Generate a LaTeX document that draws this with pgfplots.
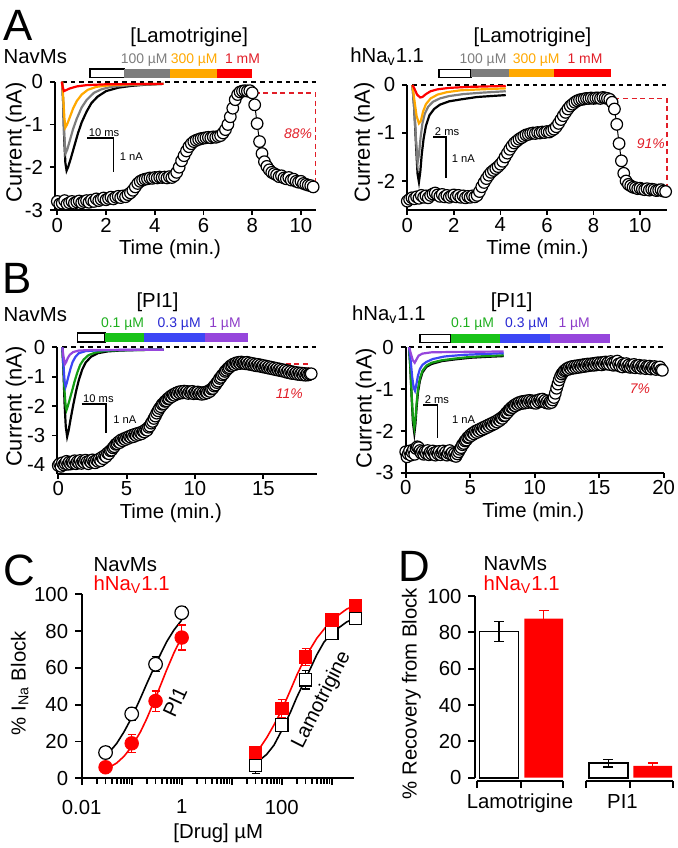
\documentclass[border=0pt]{standalone}
\usepackage{fontspec}
\setmainfont{Liberation Sans}
\usepackage{pgfplots}
\pgfplotsset{compat=1.18}

\definecolor{cgray}{RGB}{125,125,125}
\definecolor{corange}{RGB}{255,168,0}
\definecolor{cred}{RGB}{255,0,0}
\definecolor{dred}{RGB}{225,30,40}
\definecolor{cgreen}{RGB}{25,195,25}
\definecolor{cblue}{RGB}{60,70,245}
\definecolor{cpurple}{RGB}{150,70,220}
\definecolor{tgreen}{RGB}{30,175,30}
\definecolor{tblue}{RGB}{40,40,210}
\definecolor{tpurple}{RGB}{140,60,200}

\pgfplotsset{
  base/.style={scale only axis, clip=false, anchor=south west,
    axis x line*=bottom, axis y line*=left, tick align=outside,
    axis line style={line width=0.9pt},
    every tick/.style={black, line width=0.9pt},
    major tick length=2.5bp, minor tick num=0,
    tick label style={font=\fontsize{10.2}{12}\selectfont}},
  tc/.style={base, xticklabel style={yshift=2bp}},
  circ/.style={black, line width=0.5pt, mark=*, mark size=2.9bp,
    mark options={fill=white, draw=black, line width=0.6pt}},
  tr/.style={line width=1.1pt, no marks},
}
\tikzset{
  zero/.style={dash pattern=on 2.3bp off 2bp, line width=0.9pt},
  box/.style={dred, dash pattern=on 2.5bp off 1.8bp, line width=0.7pt},
  sbar/.style={line width=0.7pt},
}

\begin{document}
\begin{tikzpicture}[font=\fontsize{10.2}{12}\selectfont]

% ---------------- A left: NavMs, lamotrigine
\begin{axis}[tc, at={(27.45bp,-105bp)}, width=130.35bp, height=64.15bp,
  xmin=-0.1, xmax=10.6, ymin=-3, ymax=0,
  xtick={0,2,4,6,8,10}, xticklabels={0,2,4,6,8,10},
  ytick={-3,-2,-1,0}, yticklabels={-3,-2,-1,0}]
\draw[zero] (axis cs:0.2,0) -- (axis cs:10.6,0);
\addplot[tr, black] coordinates {(0.20,0)(0.24,-0.5)(0.28,-1.3)(0.33,-1.9)(0.38,-2.08)(0.44,-2.0)(0.55,-1.8)(0.7,-1.5)(0.85,-1.2)(1.0,-0.95)(1.2,-0.7)(1.4,-0.5)(1.65,-0.35)(2.0,-0.22)(2.5,-0.14)(3.0,-0.1)(3.6,-0.07)(4.35,-0.05)};
\addplot[tr, cgray] coordinates {(0.20,0)(0.24,-0.5)(0.28,-1.2)(0.33,-1.68)(0.4,-1.6)(0.5,-1.4)(0.65,-1.1)(0.8,-0.86)(1.0,-0.6)(1.2,-0.43)(1.5,-0.26)(1.8,-0.18)(2.2,-0.12)(3.0,-0.08)(4.35,-0.05)};
\addplot[tr, corange] coordinates {(0.20,0)(0.25,-0.45)(0.29,-0.85)(0.33,-1.07)(0.4,-1.0)(0.5,-0.85)(0.65,-0.62)(0.8,-0.45)(1.0,-0.3)(1.25,-0.19)(1.6,-0.12)(2.2,-0.08)(3.0,-0.06)(4.35,-0.05)};
\addplot[tr, cred] coordinates {(0.18,0)(0.22,-0.12)(0.27,-0.22)(0.35,-0.2)(0.5,-0.16)(0.8,-0.11)(1.2,-0.08)(2.0,-0.06)(4.35,-0.05)};
\draw[sbar] (axis cs:1.23,-1.32) -- (axis cs:2.3,-1.32) -- (axis cs:2.3,-2.12);
\node[anchor=south west, inner sep=0.6bp, font=\fontsize{5.6}{6}\selectfont] at (axis cs:1.23,-1.32) {10 ms};
\node[anchor=west, inner sep=0, font=\fontsize{5.6}{6}\selectfont] at (axis cs:2.55,-1.75) {1 nA};
\draw[box] (axis cs:8.1,-0.26) -- (axis cs:10.6,-0.26) -- (axis cs:10.6,-2.46);
\node[anchor=east, inner sep=0, text=dred, font=\fontsize{7}{8}\selectfont\itshape] at (axis cs:10.47,-1.22) {88\%};
\addplot[circ] coordinates {
(0,-2.80)(0.1,-2.86)(0.2,-2.84)(0.3,-2.78)(0.4,-2.86)(0.5,-2.83)(0.6,-2.80)(0.7,-2.84)(0.8,-2.81)(0.9,-2.79)
(1,-2.83)(1.1,-2.80)(1.2,-2.78)(1.3,-2.82)(1.4,-2.77)(1.5,-2.80)(1.6,-2.74)(1.7,-2.78)(1.8,-2.75)(1.9,-2.72)
(2,-2.76)(2.1,-2.73)(2.2,-2.70)(2.3,-2.74)(2.4,-2.70)(2.5,-2.68)(2.6,-2.71)(2.7,-2.67)(2.8,-2.69)(2.9,-2.64)
(3,-2.60)(3.1,-2.54)(3.2,-2.46)(3.3,-2.38)(3.4,-2.33)(3.5,-2.30)(3.6,-2.28)(3.7,-2.27)(3.8,-2.25)(3.9,-2.26)
(4,-2.24)(4.1,-2.25)(4.2,-2.23)(4.3,-2.24)(4.4,-2.23)(4.5,-2.25)(4.6,-2.22)(4.7,-2.24)(4.8,-2.20)(4.9,-2.12)
(5,-2.00)(5.1,-1.85)(5.2,-1.73)(5.3,-1.62)(5.4,-1.52)(5.5,-1.45)(5.6,-1.40)(5.7,-1.37)(5.8,-1.35)(5.9,-1.33)
(6,-1.32)(6.1,-1.31)(6.2,-1.30)(6.3,-1.31)(6.4,-1.29)(6.5,-1.30)(6.6,-1.28)(6.7,-1.26)(6.8,-1.20)(6.9,-1.12)
(7,-1.00)(7.1,-0.82)(7.2,-0.62)(7.3,-0.42)(7.4,-0.30)(7.5,-0.24)(7.6,-0.22)(7.7,-0.21)(7.8,-0.22)(7.9,-0.21)
(8,-0.26)(8.1,-0.54)(8.2,-0.98)(8.3,-1.40)(8.4,-1.68)(8.5,-1.87)(8.6,-1.98)(8.7,-2.06)(8.8,-2.12)(8.9,-2.15)
(9,-2.18)(9.1,-2.22)(9.2,-2.20)(9.3,-2.25)(9.4,-2.27)(9.5,-2.24)(9.6,-2.30)(9.7,-2.28)(9.8,-2.33)(9.9,-2.35)
(10,-2.33)(10.1,-2.38)(10.2,-2.40)(10.3,-2.42)(10.4,-2.43)(10.5,-2.46)};
\end{axis}

% ---------------- A right: hNav1.1, lamotrigine
\begin{axis}[tc, at={(203.65bp,-104.9bp)}, width=129.75bp, height=62.4bp,
  xmin=0, xmax=11.15, ymin=-2.6, ymax=0,
  xtick={0,2,4,6,8,10}, xticklabels={0,2,4,6,8,10},
  ytick={-2,-1,0}, yticklabels={-2,-1,0}]
\draw[zero] (axis cs:0.22,0) -- (axis cs:11.15,0);
\addplot[tr, black] coordinates {(0.22,0)(0.3,-0.5)(0.38,-1.3)(0.44,-1.85)(0.5,-2.02)(0.56,-1.8)(0.62,-1.45)(0.7,-1.12)(0.8,-0.85)(0.95,-0.63)(1.15,-0.5)(1.4,-0.41)(1.8,-0.34)(2.3,-0.3)(3.0,-0.25)(3.6,-0.23)(4.23,-0.21)};
\addplot[tr, cgray] coordinates {(0.22,0)(0.3,-0.5)(0.37,-1.1)(0.44,-1.62)(0.5,-1.45)(0.57,-1.1)(0.65,-0.8)(0.75,-0.6)(0.9,-0.45)(1.1,-0.35)(1.4,-0.28)(1.8,-0.23)(2.4,-0.19)(3.2,-0.16)(4.23,-0.13)};
\addplot[tr, corange] coordinates {(0.22,0)(0.3,-0.3)(0.4,-0.65)(0.5,-0.8)(0.58,-0.75)(0.68,-0.55)(0.8,-0.4)(1.0,-0.28)(1.3,-0.2)(1.7,-0.15)(2.3,-0.11)(3.2,-0.09)(4.23,-0.07)};
\addplot[tr, cred] coordinates {(0.22,0)(0.3,-0.07)(0.42,-0.2)(0.55,-0.26)(0.65,-0.25)(0.8,-0.19)(1.0,-0.13)(1.3,-0.09)(1.8,-0.06)(2.6,-0.04)(4.23,-0.02)};
\draw[sbar] (axis cs:1.12,-1.08) -- (axis cs:1.66,-1.08) -- (axis cs:1.66,-1.94);
\node[anchor=south west, inner sep=0.6bp, font=\fontsize{5.6}{6}\selectfont] at (axis cs:1.12,-1.08) {2 ms};
\node[anchor=west, inner sep=0, font=\fontsize{5.6}{6}\selectfont] at (axis cs:1.9,-1.53) {1 nA};
\draw[box] (axis cs:8.9,-0.28) -- (axis cs:11.15,-0.28) -- (axis cs:11.15,-2.2);
\node[anchor=east, inner sep=0, text=dred, font=\fontsize{7}{8}\selectfont\itshape] at (axis cs:11.08,-1.22) {91\%};
\addplot[circ] coordinates {
(0,-2.42)(0.1,-2.38)(0.2,-2.35)(0.3,-2.37)(0.4,-2.33)(0.5,-2.36)(0.6,-2.30)(0.7,-2.34)(0.8,-2.31)(0.9,-2.35)
(1,-2.30)(1.1,-2.27)(1.2,-2.25)(1.3,-2.29)(1.4,-2.32)(1.5,-2.28)(1.6,-2.33)(1.7,-2.30)(1.8,-2.34)(1.9,-2.31)
(2,-2.29)(2.1,-2.33)(2.2,-2.30)(2.3,-2.34)(2.4,-2.31)(2.5,-2.35)(2.6,-2.32)(2.7,-2.34)(2.8,-2.31)(2.9,-2.33)
(3,-2.30)(3.1,-2.22)(3.2,-2.12)(3.3,-2.03)(3.4,-1.95)(3.5,-1.88)(3.6,-1.82)(3.7,-1.78)(3.8,-1.74)(3.9,-1.70)
(4,-1.65)(4.1,-1.59)(4.2,-1.50)(4.3,-1.42)(4.4,-1.34)(4.5,-1.27)(4.6,-1.21)(4.7,-1.17)(4.8,-1.13)(4.9,-1.10)
(5,-1.07)(5.1,-1.04)(5.2,-1.03)(5.3,-1.01)(5.4,-1.00)(5.5,-1.01)(5.6,-0.99)(5.7,-1.00)(5.8,-0.98)(5.9,-0.99)
(6,-0.97)(6.1,-0.98)(6.2,-0.95)(6.3,-0.92)(6.4,-0.87)(6.5,-0.80)(6.6,-0.72)(6.7,-0.64)(6.8,-0.57)(6.9,-0.50)
(7,-0.44)(7.1,-0.40)(7.2,-0.36)(7.3,-0.33)(7.4,-0.31)(7.5,-0.30)(7.6,-0.29)(7.7,-0.28)(7.8,-0.28)(7.9,-0.27)
(8,-0.28)(8.1,-0.27)(8.2,-0.27)(8.3,-0.28)(8.4,-0.26)(8.5,-0.27)(8.6,-0.28)(8.7,-0.30)(8.8,-0.36)(8.9,-0.50)
(9,-0.82)(9.1,-1.22)(9.2,-1.58)(9.3,-1.84)(9.4,-2.00)(9.5,-2.07)(9.6,-2.10)(9.7,-2.13)(9.8,-2.14)(9.9,-2.16)
(10,-2.15)(10.1,-2.17)(10.2,-2.18)(10.3,-2.16)(10.4,-2.19)(10.5,-2.17)(10.6,-2.18)(10.7,-2.20)(10.8,-2.19)(10.9,-2.18)
(11,-2.21)(11.1,-2.22)};
\end{axis}

% ---------------- B left: NavMs, PI1
\begin{axis}[tc, at={(28.65bp,-236.85bp)}, width=129.7bp, height=63.2bp,
  xmin=-0.07, xmax=18.9, ymin=-4.3, ymax=0,
  xtick={0,5,10,15}, xticklabels={0,5,10,15},
  ytick={-4,-3,-2,-1,0}, yticklabels={-4,-3,-2,-1,0}]
\draw[zero] (axis cs:0.3,0) -- (axis cs:18.9,0);
\addplot[tr, black] coordinates {(0.3,0)(0.38,-0.8)(0.46,-1.9)(0.55,-2.7)(0.65,-3.04)(0.75,-2.85)(0.9,-2.45)(1.1,-1.95)(1.3,-1.5)(1.5,-1.12)(1.75,-0.76)(2.0,-0.52)(2.4,-0.32)(2.9,-0.2)(3.6,-0.14)(4.5,-0.11)(6.0,-0.09)(7.7,-0.08)};
\addplot[tr, cgreen!80!black] coordinates {(0.3,0)(0.38,-0.7)(0.46,-1.5)(0.54,-2.0)(0.61,-2.13)(0.7,-2.0)(0.85,-1.75)(1.0,-1.5)(1.2,-1.15)(1.4,-0.85)(1.6,-0.6)(1.85,-0.42)(2.2,-0.27)(2.7,-0.18)(3.4,-0.12)(4.5,-0.1)(7.7,-0.08)};
\addplot[tr, cblue] coordinates {(0.3,0)(0.38,-0.6)(0.46,-1.15)(0.54,-1.34)(0.62,-1.22)(0.75,-0.98)(0.9,-0.72)(1.05,-0.5)(1.25,-0.33)(1.5,-0.2)(2.0,-0.13)(3.0,-0.1)(7.7,-0.08)};
\addplot[tr, cpurple] coordinates {(0.3,0)(0.38,-0.3)(0.49,-0.57)(0.58,-0.5)(0.7,-0.36)(0.85,-0.25)(1.1,-0.16)(1.5,-0.11)(2.5,-0.09)(7.7,-0.08)};
\draw[sbar] (axis cs:1.71,-1.93) -- (axis cs:3.49,-1.93) -- (axis cs:3.49,-2.9);
\node[anchor=south west, inner sep=0.6bp, font=\fontsize{5.6}{6}\selectfont] at (axis cs:1.71,-1.93) {10 ms};
\node[anchor=west, inner sep=0, font=\fontsize{5.6}{6}\selectfont] at (axis cs:4.0,-2.47) {1 nA};
\draw[box] (axis cs:13.5,-0.57) -- (axis cs:18.3,-0.57) -- (axis cs:18.3,-0.71);
\node[inner sep=0, text=dred, font=\fontsize{7}{8}\selectfont\itshape] at (axis cs:16.9,-1.57) {11\%};
\addplot[circ] coordinates {
(0,-4.02)(0.1,-3.96)(0.2,-4.05)(0.3,-3.93)(0.4,-4.00)(0.5,-3.95)(0.6,-3.88)(0.7,-3.98)(0.8,-3.91)(0.9,-3.97)
(1,-3.90)(1.1,-3.94)(1.2,-3.86)(1.3,-3.96)(1.4,-3.89)(1.5,-3.93)(1.6,-3.85)(1.7,-3.95)(1.8,-3.88)(1.9,-3.92)
(2,-3.84)(2.1,-3.90)(2.2,-3.96)(2.3,-3.86)(2.4,-3.91)(2.5,-3.83)(2.6,-3.89)(2.7,-3.93)(2.8,-3.84)(2.9,-3.88)
(3,-3.80)(3.1,-3.86)(3.2,-3.74)(3.3,-3.79)(3.4,-3.68)(3.5,-3.72)(3.6,-3.60)(3.7,-3.62)(3.8,-3.52)(3.9,-3.50)
(4,-3.42)(4.1,-3.38)(4.2,-3.30)(4.3,-3.28)(4.4,-3.22)(4.5,-3.24)(4.6,-3.15)(4.7,-3.18)(4.8,-3.11)(4.9,-3.14)
(5,-3.07)(5.1,-3.10)(5.2,-3.03)(5.3,-3.06)(5.4,-2.99)(5.5,-3.04)(5.6,-2.96)(5.7,-3.00)(5.8,-2.93)(5.9,-2.97)
(6,-2.90)(6.1,-2.94)(6.2,-2.86)(6.3,-2.88)(6.4,-2.80)(6.5,-2.82)(6.6,-2.72)(6.7,-2.68)(6.8,-2.58)(6.9,-2.52)
(7,-2.42)(7.1,-2.34)(7.2,-2.24)(7.3,-2.16)(7.4,-2.08)(7.5,-2.02)(7.6,-1.94)(7.7,-1.92)(7.8,-1.84)(7.9,-1.82)
(8,-1.75)(8.1,-1.74)(8.2,-1.67)(8.3,-1.68)(8.4,-1.61)(8.5,-1.63)(8.6,-1.56)(8.7,-1.59)(8.8,-1.52)(8.9,-1.56)
(9,-1.50)(9.1,-1.55)(9.2,-1.49)(9.3,-1.54)(9.4,-1.50)(9.5,-1.57)(9.6,-1.51)(9.7,-1.55)(9.8,-1.50)(9.9,-1.58)
(10,-1.53)(10.1,-1.57)(10.2,-1.52)(10.3,-1.58)(10.4,-1.54)(10.5,-1.60)(10.6,-1.54)(10.7,-1.58)(10.8,-1.52)(10.9,-1.55)
(11,-1.48)(11.1,-1.50)(11.2,-1.42)(11.3,-1.40)(11.4,-1.32)(11.5,-1.28)(11.6,-1.20)(11.7,-1.15)(11.8,-1.06)(11.9,-1.02)
(12,-0.94)(12.1,-0.90)(12.2,-0.82)(12.3,-0.78)(12.4,-0.72)(12.5,-0.69)(12.6,-0.63)(12.7,-0.62)(12.8,-0.57)(12.9,-0.59)
(13,-0.53)(13.1,-0.56)(13.2,-0.51)(13.3,-0.55)(13.4,-0.50)(13.5,-0.54)(13.6,-0.52)(13.7,-0.56)(13.8,-0.51)(13.9,-0.57)
(14,-0.53)(14.1,-0.59)(14.2,-0.55)(14.3,-0.61)(14.4,-0.57)(14.5,-0.63)(14.6,-0.58)(14.7,-0.64)(14.8,-0.60)(14.9,-0.66)
(15,-0.62)(15.1,-0.68)(15.2,-0.64)(15.3,-0.70)(15.4,-0.66)(15.5,-0.72)(15.6,-0.68)(15.7,-0.74)(15.8,-0.70)(15.9,-0.76)
(16,-0.72)(16.1,-0.78)(16.2,-0.74)(16.3,-0.80)(16.4,-0.76)(16.5,-0.82)(16.6,-0.78)(16.7,-0.85)(16.8,-0.80)(16.9,-0.87)
(17,-0.82)(17.1,-0.89)(17.2,-0.84)(17.3,-0.90)(17.4,-0.86)(17.5,-0.92)(17.6,-0.87)(17.7,-0.93)(17.8,-0.88)(17.9,-0.94)
(18,-0.89)(18.1,-0.95)(18.2,-0.90)(18.3,-0.94)(18.4,-0.91)(18.5,-0.90)};
\end{axis}

% ---------------- B right: hNav1.1, PI1
\begin{axis}[tc, at={(202.85bp,-236.35bp)}, width=129.3bp, height=62.7bp,
  xmin=0, xmax=20.05, ymin=-3, ymax=0,
  xtick={0,5,10,15,20}, xticklabels={0,5,10,15,20},
  ytick={-3,-2,-1,0}, yticklabels={-3,-2,-1,0}]
\draw[zero] (axis cs:0.26,0) -- (axis cs:20.05,0);
\addplot[tr, black] coordinates {(0.26,0)(0.36,-0.5)(0.46,-1.2)(0.56,-1.8)(0.67,-2.06)(0.75,-1.85)(0.85,-1.42)(0.95,-1.08)(1.1,-0.8)(1.3,-0.6)(1.6,-0.47)(2.0,-0.4)(2.8,-0.33)(3.8,-0.29)(5.0,-0.25)(6.2,-0.23)(7.6,-0.21)};
\addplot[tr, cgreen!80!black] coordinates {(0.26,0)(0.36,-0.47)(0.46,-1.12)(0.56,-1.68)(0.67,-1.92)(0.75,-1.72)(0.85,-1.32)(0.95,-1.0)(1.1,-0.74)(1.3,-0.56)(1.6,-0.44)(2.0,-0.37)(2.8,-0.31)(3.8,-0.27)(5.0,-0.23)(6.2,-0.21)(7.6,-0.19)};
\addplot[tr, cblue] coordinates {(0.26,0)(0.38,-0.3)(0.5,-0.7)(0.62,-0.97)(0.72,-1.04)(0.82,-0.9)(0.95,-0.68)(1.1,-0.52)(1.3,-0.42)(1.6,-0.35)(2.1,-0.28)(3.0,-0.22)(4.5,-0.18)(6.0,-0.16)(7.6,-0.14)};
\addplot[tr, cpurple] coordinates {(0.26,0)(0.4,-0.15)(0.55,-0.31)(0.7,-0.37)(0.82,-0.3)(1.0,-0.2)(1.3,-0.15)(2.0,-0.12)(4.0,-0.11)(7.6,-0.1)};
\draw[sbar] (axis cs:1.36,-1.38) -- (axis cs:2.48,-1.38) -- (axis cs:2.48,-2.16);
\node[anchor=south west, inner sep=0.6bp, font=\fontsize{5.6}{6}\selectfont] at (axis cs:1.36,-1.38) {2 ms};
\node[anchor=west, inner sep=0, font=\fontsize{5.6}{6}\selectfont] at (axis cs:3.57,-1.74) {1 nA};
\draw[box] (axis cs:15.7,-0.42) -- (axis cs:20.05,-0.42) -- (axis cs:20.05,-0.54);
\node[inner sep=0, text=dred, font=\fontsize{7}{8}\selectfont\itshape] at (axis cs:18.17,-0.98) {7\%};
\addplot[circ] coordinates {
(0,-2.50)(0.1,-2.62)(0.2,-2.55)(0.3,-2.48)(0.4,-2.58)(0.5,-2.51)(0.6,-2.45)(0.7,-2.56)(0.8,-2.42)(0.9,-2.38)
(1,-2.40)(1.1,-2.47)(1.2,-2.53)(1.3,-2.49)(1.4,-2.56)(1.5,-2.50)(1.6,-2.54)(1.7,-2.47)(1.8,-2.57)(1.9,-2.51)
(2,-2.55)(2.1,-2.48)(2.2,-2.53)(2.3,-2.58)(2.4,-2.50)(2.5,-2.55)(2.6,-2.49)(2.7,-2.57)(2.8,-2.52)(2.9,-2.48)
(3,-2.55)(3.1,-2.51)(3.2,-2.58)(3.3,-2.53)(3.4,-2.47)(3.5,-2.56)(3.6,-2.52)(3.7,-2.59)(3.8,-2.54)(3.9,-2.61)
(4,-2.55)(4.1,-2.50)(4.2,-2.44)(4.3,-2.40)(4.4,-2.33)(4.5,-2.30)(4.6,-2.24)(4.7,-2.22)(4.8,-2.16)(4.9,-2.15)
(5,-2.10)(5.1,-2.11)(5.2,-2.05)(5.3,-2.07)(5.4,-2.01)(5.5,-2.04)(5.6,-1.98)(5.7,-2.01)(5.8,-1.95)(5.9,-1.98)
(6,-1.92)(6.1,-1.95)(6.2,-1.89)(6.3,-1.92)(6.4,-1.86)(6.5,-1.89)(6.6,-1.83)(6.7,-1.86)(6.8,-1.80)(6.9,-1.83)
(7,-1.77)(7.1,-1.79)(7.2,-1.73)(7.3,-1.75)(7.4,-1.69)(7.5,-1.70)(7.6,-1.64)(7.7,-1.63)(7.8,-1.57)(7.9,-1.56)
(8,-1.50)(8.1,-1.49)(8.2,-1.44)(8.3,-1.44)(8.4,-1.39)(8.5,-1.40)(8.6,-1.35)(8.7,-1.37)(8.8,-1.32)(8.9,-1.35)
(9,-1.30)(9.1,-1.34)(9.2,-1.29)(9.3,-1.33)(9.4,-1.28)(9.5,-1.32)(9.6,-1.27)(9.7,-1.31)(9.8,-1.28)(9.9,-1.33)
(10,-1.29)(10.1,-1.34)(10.2,-1.27)(10.3,-1.31)(10.4,-1.25)(10.5,-1.29)(10.6,-1.24)(10.7,-1.30)(10.8,-1.27)(10.9,-1.33)
(11,-1.29)(11.1,-1.34)(11.2,-1.30)(11.3,-1.32)(11.4,-1.26)(11.5,-1.20)(11.6,-1.10)(11.7,-0.98)(11.8,-0.88)(11.9,-0.78)
(12,-0.70)(12.1,-0.64)(12.2,-0.60)(12.3,-0.56)(12.4,-0.54)(12.5,-0.51)(12.6,-0.53)(12.7,-0.48)(12.8,-0.51)(12.9,-0.46)
(13,-0.50)(13.1,-0.45)(13.2,-0.49)(13.3,-0.44)(13.4,-0.48)(13.5,-0.43)(13.6,-0.47)(13.7,-0.42)(13.8,-0.46)(13.9,-0.41)
(14,-0.45)(14.1,-0.40)(14.2,-0.44)(14.3,-0.40)(14.4,-0.43)(14.5,-0.39)(14.6,-0.43)(14.7,-0.38)(14.8,-0.42)(14.9,-0.37)
(15,-0.41)(15.1,-0.37)(15.2,-0.42)(15.3,-0.36)(15.4,-0.40)(15.5,-0.35)(15.6,-0.40)(15.7,-0.36)(15.8,-0.41)(15.9,-0.34)
(16,-0.38)(16.1,-0.43)(16.2,-0.36)(16.3,-0.42)(16.4,-0.33)(16.5,-0.40)(16.6,-0.45)(16.7,-0.38)(16.8,-0.47)(16.9,-0.41)
(17,-0.44)(17.1,-0.39)(17.2,-0.46)(17.3,-0.42)(17.4,-0.48)(17.5,-0.43)(17.6,-0.47)(17.7,-0.41)(17.8,-0.49)(17.9,-0.44)
(18,-0.47)(18.1,-0.43)(18.2,-0.50)(18.3,-0.45)(18.4,-0.48)(18.5,-0.44)(18.6,-0.51)(18.7,-0.46)(18.8,-0.49)(18.9,-0.45)
(19,-0.52)(19.1,-0.47)(19.2,-0.50)(19.3,-0.46)(19.4,-0.53)(19.5,-0.48)(19.6,-0.51)(19.7,-0.47)(19.8,-0.54)(19.9,-0.55)};
\end{axis}

% ---------------- C: concentration-response
\begin{axis}[base, at={(40.85bp,-389.15bp)}, width=136.3bp, height=92bp,
  xmode=log, xmin=0.01, xmax=2830, ymin=0, ymax=100,
  major tick length=3.3bp, minor xtick={},
  xtick={0.01,0.1,1,10,100,1000}, xticklabels={0.01,,1,,100,},
  ytick={0,20,40,60,80,100}, yticklabels={0,20,40,60,80,100},
  xticklabel style={yshift=-4bp}]
\addplot[black, line width=0.8pt, no marks] coordinates {(0.03,11.8)(0.05,18.9)(0.07,25.2)(0.1,33)(0.15,43.6)(0.2,51.4)(0.3,62)(0.5,74.2)(0.7,80.6)(1,86)};
\addplot[cred, line width=0.8pt, no marks] coordinates {(0.03,4.7)(0.05,8.3)(0.07,11.9)(0.1,17.2)(0.15,25.3)(0.2,32.4)(0.3,43.7)(0.5,58.9)(0.7,68.2)(1,76.7)};
\addplot[black, line width=0.8pt, no marks] coordinates {(30,8)(50,13)(70,18)(100,26)(150,36)(200,44)(300,54)(500,67)(700,74)(1000,79)(2000,85)(3000,87)};
\addplot[cred, line width=0.8pt, no marks] coordinates {(30,13)(50,22)(70,29)(100,37)(150,48)(200,56)(300,66)(500,76)(700,81)(1000,86)(2000,92)(3000,94)};
\addplot[only marks, mark=*, mark size=3.4bp, mark options={fill=white, draw=black, line width=0.6pt}] coordinates {(0.03,14)(0.1,35)(0.3,62)(1,90)};
\addplot[only marks, mark=*, mark size=3.4bp, mark options={fill=cred, draw=cred}] coordinates {(0.03,6)(0.1,19)(0.3,42)(1,76.5)};
\addplot[only marks, mark=square*, mark size=3.1bp, mark options={fill=white, draw=black, line width=0.6pt}] coordinates {(30,7)(100,29)(300,53.5)(1000,79)(3000,87)};
\addplot[only marks, mark=square*, mark size=3.1bp, mark options={fill=cred, draw=cred}] coordinates {(30,14)(100,38)(300,66)(1000,86)(3000,94)};
\addplot[draw=none, mark=none, error bars/.cd, y dir=both, y explicit,
  error bar style={draw=black, line width=0.6pt}, error mark options={rotate=90, mark size=2bp, draw=black, line width=0.6pt}]
  coordinates {(0.03,14) +- (0,3) (0.1,35) +- (0,3.6) (0.3,62) +- (0,4) (1,90) +- (0,3.3)
               (30,7) +- (0,4.5) (100,29) +- (0,3) (300,53.5) +- (0,5) (1000,79) +- (0,3) (3000,87) +- (0,2)};
\addplot[draw=none, mark=none, error bars/.cd, y dir=both, y explicit,
  error bar style={draw=cred, line width=0.6pt}, error mark options={rotate=90, mark size=2bp, draw=cred, line width=0.6pt}]
  coordinates {(0.1,19) +- (0,5) (0.3,42) +- (0,5.5) (1,76.5) +- (0,6.8)
               (30,14) +- (0,3) (100,38) +- (0,5) (300,66) +- (0,4.5) (1000,86) +- (0,2) (3000,94) +- (0,1.5)};
\end{axis}

% ---------------- D: recovery from block
\begin{axis}[base, at={(237.5bp,-388.85bp)}, width=99.15bp, height=90.85bp,
  xmin=-0.537, xmax=3.9, ymin=0, ymax=100,
  axis x line=none, major tick length=3.3bp, xtick=\empty,
  ytick={0,20,40,60,80,100}, yticklabels={0,20,40,60,80,100}]
\addplot[ybar, bar width=0.87, bar shift=0pt, fill=white, draw=black, line width=0.8pt,
  error bars/.cd, y dir=both, y explicit, error bar style={black, line width=0.7pt},
  error mark options={rotate=90, mark size=2.5bp, black, line width=0.7pt}]
  coordinates {(0,80.5) +- (0,5.5) (2.445,8) +- (0,2)};
\addplot[ybar, bar width=0.87, bar shift=0pt, fill=cred, draw=none,
  error bars/.cd, y dir=plus, y explicit, error bar style={cred, line width=0.7pt},
  error mark options={rotate=90, mark size=2.5bp, cred, line width=0.7pt}]
  coordinates {(1,87.5) +- (0,4.5) (3.44,6.5) +- (0,1.5)};
\draw[line width=0.9pt] (axis cs:-0.5,-1.8) -- (axis cs:1.44,-1.8);
\draw[line width=0.9pt] (axis cs:1.94,-1.8) -- (axis cs:3.9,-1.8);
\draw[line width=0.9pt] (axis cs:-0.5,-1.8) -- (axis cs:-0.5,-5.4);
\draw[line width=0.9pt] (axis cs:0.49,-1.8) -- (axis cs:0.49,-5.4);
\draw[line width=0.9pt] (axis cs:1.44,-1.8) -- (axis cs:1.44,-5.4);
\draw[line width=0.9pt] (axis cs:1.94,-1.8) -- (axis cs:1.94,-5.4);
\draw[line width=0.9pt] (axis cs:2.93,-1.8) -- (axis cs:2.93,-5.4);
\draw[line width=0.9pt] (axis cs:3.9,-1.8) -- (axis cs:3.9,-5.4);
\end{axis}

% ---------------- text and drug bars, in pixel units of the reference
\begin{scope}[x=0.5bp, y=-0.5bp]
\node[font=\fontsize{22}{22}\selectfont, inner sep=0] at (18.3,25) {A};
\node[font=\fontsize{22}{22}\selectfont, inner sep=0] at (17.5,278) {B};
\node[font=\fontsize{22}{22}\selectfont, inner sep=0] at (19,570) {C};
\node[font=\fontsize{22}{22}\selectfont, inner sep=0] at (414,566) {D};

% A labels
\node[anchor=base west, inner sep=0] at (3.3,63.3) {NavMs};
\node[anchor=base west, inner sep=0] at (350,62.7) {hNa\textsubscript{v}1.1};
\node[anchor=base, inner sep=0] at (189.2,42.7) {[Lamotrigine]};
\node[anchor=base, inner sep=0] at (532.5,42.7) {[Lamotrigine]};
\begin{scope}[every node/.style={anchor=base, inner sep=0, font=\fontsize{7}{8}\selectfont}]
\node[text=cgray] at (144.2,63.8) {100 µM};
\node[text=corange] at (194.2,63.8) {300 µM};
\node[text=dred] at (242.5,63.8) {1 mM};
\node[text=cgray] at (483,63.8) {100 µM};
\node[text=corange] at (536.2,63.8) {300 µM};
\node[text=dred] at (585,63.8) {1 mM};
\node[text=tgreen] at (122.5,327.3) {0.1 µM};
\node[text=tblue] at (179.2,327.3) {0.3 µM};
\node[text=tpurple] at (225,327.3) {1 µM};
\node[text=tgreen] at (472.5,327.3) {0.1 µM};
\node[text=tblue] at (526.7,327.3) {0.3 µM};
\node[text=tpurple] at (574.2,327.3) {1 µM};
\end{scope}
% drug bars
\draw[line width=0.6pt, fill=white] (90,69) rectangle (124.3,77.7);
\fill[cgray] (124.3,69) rectangle (170,77.7);
\fill[corange] (170,69) rectangle (217.3,77.7);
\fill[cred] (217.3,69) rectangle (251.7,77.7);
\draw[line width=0.6pt, fill=white] (439,69.3) rectangle (471,77.3);
\fill[cgray] (471,69.3) rectangle (509,77.3);
\fill[corange] (509,69.3) rectangle (554.3,77.3);
\fill[cred] (554.3,69.3) rectangle (610.7,77.3);
\draw[line width=0.6pt, fill=white] (77.3,333) rectangle (105,342);
\fill[cgreen] (105,333) rectangle (144,342);
\fill[cblue] (144,333) rectangle (205,342);
\fill[cpurple] (205,333) rectangle (247.7,342);
\draw[line width=0.6pt, fill=white] (420,334.3) rectangle (451,342.7);
\fill[cgreen] (451,334.3) rectangle (500,342.7);
\fill[cblue] (500,334.3) rectangle (550,342.7);
\fill[cpurple] (550,334.3) rectangle (610,342.7);

% B labels
\node[anchor=base west, inner sep=0] at (3.3,321.7) {NavMs};
\node[anchor=base west, inner sep=0] at (351.7,320.5) {hNa\textsubscript{v}1.1};
\node[anchor=base, inner sep=0] at (157.5,307.4) {[PI1]};
\node[anchor=base, inner sep=0] at (511.7,307.4) {[PI1]};

% axis titles of the time courses
\node[anchor=base, inner sep=0] at (170,255) {Time (min.)};
\node[anchor=base, inner sep=0] at (537.5,255) {Time (min.)};
\node[anchor=base, inner sep=0] at (170.8,518.7) {Time (min.)};
\node[anchor=base, inner sep=0] at (533.3,517.7) {Time (min.)};
\node[rotate=90, anchor=base, inner sep=0, font=\fontsize{11}{12}\selectfont] at (21.7,142.5) {Current (nA)};
\node[rotate=90, anchor=base, inner sep=0, font=\fontsize{11}{12}\selectfont] at (370,142.5) {Current (nA)};
\node[rotate=90, anchor=base, inner sep=0, font=\fontsize{11}{12}\selectfont] at (21.7,406.7) {Current (nA)};
\node[rotate=90, anchor=base, inner sep=0, font=\fontsize{11}{12}\selectfont] at (371.7,408.3) {Current (nA)};

% C labels
\node[anchor=base west, inner sep=0] at (93.3,571.7) {NavMs};
\node[anchor=base west, inner sep=0, text=cred] at (93.3,590.5) {hNa\textsubscript{V}1.1};
\node[anchor=base, inner sep=0] at (218.3,838.3) {[Drug] µM};
\node[rotate=90, anchor=base, inner sep=0] at (25.5,683.3) {\% I\textsubscript{Na} Block};
\node[rotate=65, inner sep=0] at (175,701.7) {PI1};
\node[rotate=63, inner sep=0] at (321.7,700) {Lamotrigine};

% D labels
\node[anchor=base west, inner sep=0] at (483.3,570.7) {NavMs};
\node[anchor=base west, inner sep=0, text=cred] at (483.3,590.5) {hNa\textsubscript{V}1.1};
\node[anchor=base, inner sep=0] at (520,808.3) {Lamotrigine};
\node[anchor=base, inner sep=0] at (622.5,808.3) {PI1};
\node[rotate=90, anchor=base, inner sep=0] at (416.7,693.5) {\% Recovery from Block};
\end{scope}

\pgfresetboundingbox
\path[use as bounding box] (0,0) rectangle (339bp,-424bp);
\end{tikzpicture}
\end{document}
